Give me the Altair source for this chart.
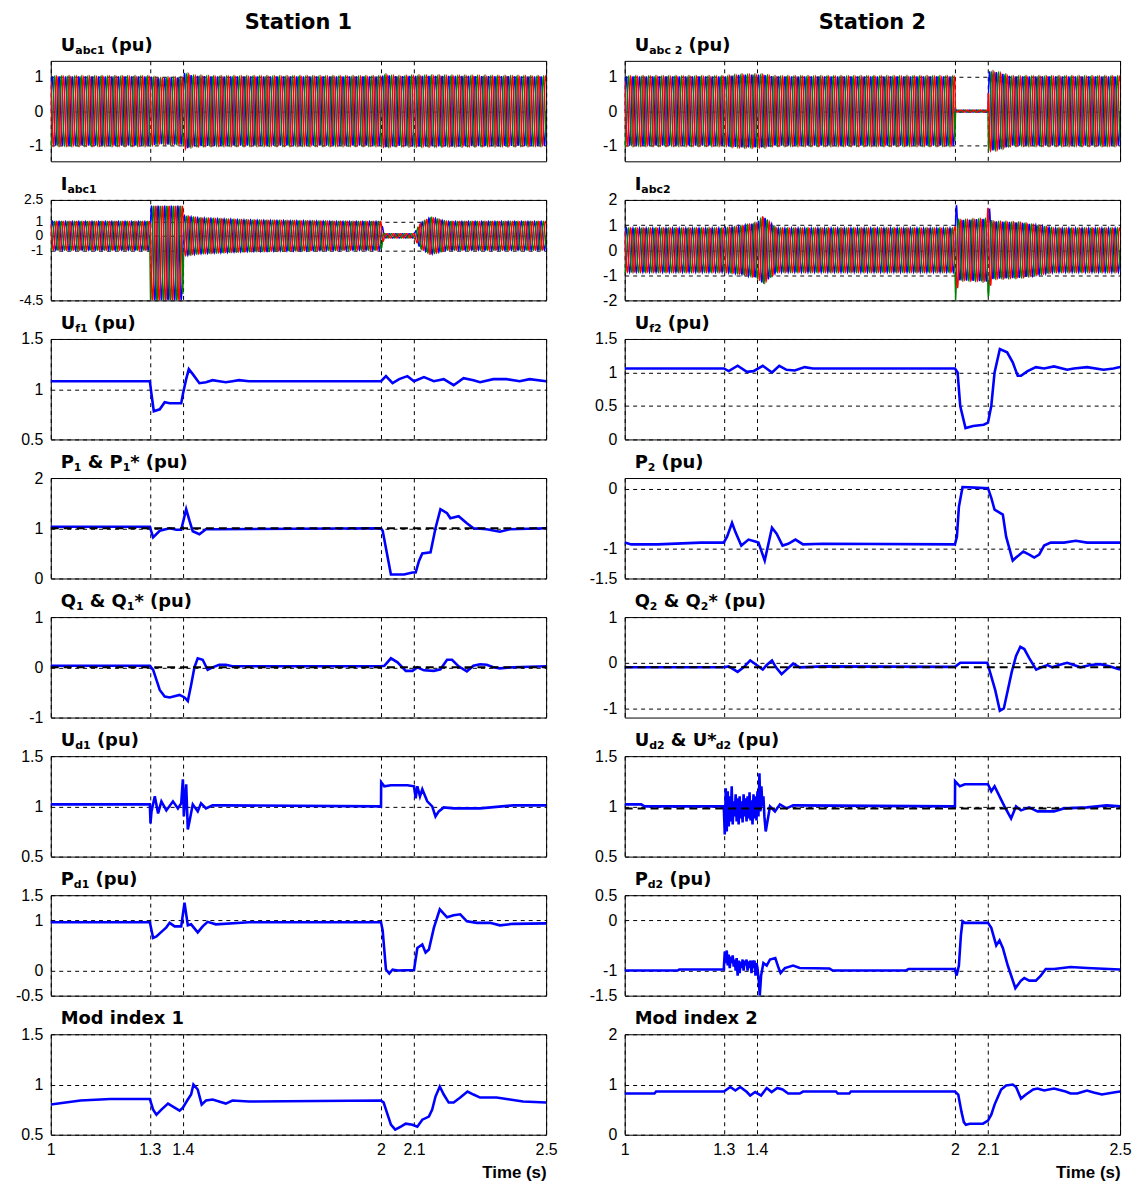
import altair as alt
import numpy as np
import pandas as pd

# ---------------- axes / ticks ----------------
X_TICKS = [1, 1.3, 1.4, 2, 2.1, 2.5]
REF_T = [1.0, 2.5]

# ---------------- three-phase waveform envelopes ----------------
UABC1_T = [1.0, 1.3, 1.33, 1.36, 1.40, 1.405, 1.43, 1.5, 2.0, 2.01, 2.05, 2.1, 2.15, 2.5]
UABC1_A = [1.0, 1.0, 0.95, 0.97, 0.97, 1.1, 1.02, 1.0, 1.0, 1.05, 1.0, 1.02, 1.02, 1.0]

UABC2_T = [1.0, 1.3, 1.35, 1.42, 1.45, 2.0, 2.0015, 2.1, 2.1015, 2.13, 2.17, 2.5]
UABC2_A = [1.0, 1.0, 1.05, 1.05, 1.0, 1.0, 0.03, 0.03, 1.15, 1.12, 1.0, 1.0]

IABC1_T = [1.0, 1.3, 1.302, 1.4, 1.402, 1.45, 1.6, 1.9, 2.0, 2.01, 2.1, 2.12, 2.15, 2.2, 2.5]
IABC1_A = [1.0, 1.0, 3.3, 3.3, 1.4, 1.25, 1.1, 1.0, 1.0, 0.15, 0.15, 0.9, 1.3, 1.0, 1.0]
IABC1_OFF = [0, 0, -1.2, -1.2, 0, 0, 0, 0, 0, 0, 0, 0, 0, 0, 0]

IABC2_T = [1.0, 1.3, 1.35, 1.40, 1.42, 1.44, 1.46, 2.0, 2.002, 2.012, 2.098, 2.1, 2.112, 2.2, 2.3, 2.5]
IABC2_A = [0.88, 0.88, 0.95, 1.1, 1.35, 1.1, 0.88, 0.88, 2.0, 1.2, 1.25, 1.95, 1.15, 1.1, 0.88, 0.88]

# ---------------- Station 1 signals ----------------
UF1_T = [1.0, 1.3, 1.305, 1.312, 1.33, 1.345, 1.36, 1.395, 1.40, 1.41, 1.418, 1.43, 1.45, 1.47, 1.49,
         1.51, 1.53, 1.55, 1.57, 1.60, 2.0, 2.015, 2.035, 2.055, 2.08, 2.10, 2.13, 2.16, 2.19, 2.22,
         2.25, 2.28, 2.30, 2.34, 2.38, 2.42, 2.45, 2.5]
UF1_V = [1.08, 1.08, 0.95, 0.78, 0.80, 0.87, 0.86, 0.86, 0.95, 1.10, 1.20, 1.15, 1.06, 1.07, 1.09,
         1.08, 1.07, 1.08, 1.09, 1.08, 1.08, 1.13, 1.06, 1.10, 1.13, 1.08, 1.12, 1.08, 1.10, 1.04,
         1.11, 1.09, 1.07, 1.10, 1.10, 1.08, 1.10, 1.08]

P1_T = [1.0, 1.3, 1.31, 1.33, 1.36, 1.38, 1.395, 1.41, 1.42, 1.43, 1.45, 1.47, 1.50, 2.0, 2.005,
        2.03, 2.07, 2.095, 2.105, 2.115, 2.125, 2.15, 2.165, 2.18, 2.2, 2.21, 2.235, 2.26, 2.28,
        2.32, 2.36, 2.39, 2.5]
P1_V = [1.03, 1.03, 0.82, 0.95, 1.0, 0.97, 0.97, 1.38, 1.15, 0.94, 0.88, 0.98, 0.98, 1.0, 0.95,
        0.08, 0.08, 0.12, 0.12, 0.35, 0.5, 0.52, 1.0, 1.38, 1.3, 1.2, 1.24, 1.1, 1.0,
        0.98, 0.93, 0.98, 1.0]
P1_REF = [1.0, 1.0]

Q1_T = [1.0, 1.3, 1.31, 1.33, 1.345, 1.36, 1.39, 1.405, 1.415, 1.425, 1.435, 1.445, 1.46, 1.475,
        1.49, 1.51, 1.53, 1.55, 2.0, 2.01, 2.03, 2.05, 2.075, 2.095, 2.11, 2.13, 2.16, 2.18, 2.2,
        2.215, 2.235, 2.26, 2.28, 2.3, 2.32, 2.34, 2.36, 2.4, 2.5]
Q1_V = [0.03, 0.03, -0.05, -0.45, -0.58, -0.6, -0.55, -0.6, -0.67, -0.35, 0.0, 0.18, 0.15, -0.05,
        0.0, 0.05, 0.05, 0.02, 0.02, 0.03, 0.18, 0.1, -0.07, -0.07, 0.0, -0.06, -0.07, -0.04, 0.15,
        0.15, 0.02, -0.08, 0.03, 0.06, 0.05, 0.0, -0.02, 0.0, 0.02]
Q1_REF = [0.0, 0.0]

UD1_T = [1.0, 1.3, 1.302, 1.305, 1.315, 1.325, 1.335, 1.35, 1.37, 1.385, 1.395, 1.40, 1.403, 1.41,
         1.415, 1.42, 1.43, 1.445, 1.455, 1.47, 1.49, 1.52, 2.0, 2.0005, 2.01, 2.03, 2.08, 2.1,
         2.105, 2.11, 2.118, 2.125, 2.14, 2.155, 2.165, 2.175, 2.19, 2.22, 2.3, 2.4, 2.5]
UD1_V = [1.02, 1.02, 0.83, 0.95, 1.1, 0.93, 1.05, 0.96, 1.05, 0.98, 1.03, 1.27, 0.9, 1.22,
         0.77, 0.85, 1.02, 0.95, 1.03, 0.98, 1.01, 1.01, 1.0, 1.24, 1.2, 1.21, 1.21, 1.2,
         1.08, 1.2, 1.1, 1.17, 1.05, 1.0, 0.9, 0.95, 0.99, 0.98, 0.98, 1.01, 1.01]

PD1_T = [1.0, 1.3, 1.31, 1.32, 1.335, 1.35, 1.36, 1.375, 1.395, 1.405, 1.415, 1.425, 1.445, 1.46,
         1.475, 1.5, 1.6, 2.0, 2.005, 2.015, 2.025, 2.035, 2.05, 2.1, 2.11, 2.125, 2.135, 2.145,
         2.16, 2.178, 2.2, 2.22, 2.24, 2.26, 2.29, 2.33, 2.36, 2.4, 2.5]
PD1_V = [0.96, 0.96, 0.65, 0.68, 0.77, 0.86, 0.95, 0.88, 0.88, 1.35, 0.9, 0.92, 0.76, 0.88,
         0.97, 0.92, 0.96, 0.96, 0.8, 0.02, -0.06, 0.02, 0.0, 0.01, 0.45, 0.52, 0.36, 0.42,
         0.85, 1.22, 1.06, 1.1, 1.12, 0.98, 0.95, 0.95, 0.9, 0.93, 0.94]

MOD1_T = [1.0, 1.045, 1.09, 1.18, 1.3, 1.31, 1.32, 1.335, 1.355, 1.375, 1.39, 1.40, 1.415, 1.425,
          1.432, 1.445, 1.457, 1.47, 1.49, 1.53, 1.55, 1.6, 2.0, 2.008, 2.02, 2.03, 2.043, 2.06,
          2.075, 2.095, 2.11, 2.125, 2.145, 2.155, 2.165, 2.178, 2.19, 2.205, 2.22, 2.24, 2.262,
          2.28, 2.3, 2.35, 2.39, 2.43, 2.5]
MOD1_V = [0.8, 0.82, 0.84, 0.855, 0.855, 0.75, 0.7, 0.75, 0.81, 0.77, 0.74, 0.77, 0.85, 0.9,
          1.0, 0.95, 0.8, 0.84, 0.85, 0.81, 0.84, 0.83, 0.84, 0.82, 0.7, 0.6, 0.55, 0.58,
          0.61, 0.6, 0.58, 0.65, 0.68, 0.75, 0.88, 0.98, 0.9, 0.82, 0.82, 0.87, 0.93,
          0.9, 0.87, 0.87, 0.85, 0.83, 0.82]

# ---------------- Station 2 signals ----------------
UF2_T = [1.0, 1.3, 1.315, 1.342, 1.37, 1.39, 1.418, 1.446, 1.468, 1.49, 1.515, 1.545, 1.57, 2.0,
         2.008, 2.016, 2.032, 2.055, 2.087, 2.1, 2.11, 2.12, 2.136, 2.158, 2.175, 2.19, 2.2, 2.22,
         2.245, 2.27, 2.3, 2.34, 2.36, 2.4, 2.45, 2.48, 2.5]
UF2_V = [1.06, 1.06, 1.02, 1.1, 1.01, 1.02, 1.1, 1.0, 1.1, 1.04, 1.03, 1.08, 1.06, 1.06,
         1.0, 0.5, 0.17, 0.2, 0.22, 0.25, 0.5, 1.0, 1.35, 1.3, 1.15, 0.95, 0.95, 1.02,
         1.08, 1.06, 1.09, 1.04, 1.06, 1.08, 1.04, 1.06, 1.08]

P2_T = [1.0, 1.02, 1.1, 1.23, 1.3, 1.31, 1.325, 1.335, 1.353, 1.375, 1.395, 1.405, 1.424, 1.446,
        1.46, 1.478, 1.495, 1.517, 1.54, 1.6, 2.0, 2.006, 2.012, 2.023, 2.06, 2.1, 2.11, 2.12,
        2.145, 2.155, 2.175, 2.185, 2.207, 2.225, 2.24, 2.255, 2.27, 2.29, 2.33, 2.366, 2.4, 2.5]
P2_V = [-0.9, -0.93, -0.93, -0.9, -0.9, -0.8, -0.57, -0.72, -0.95, -0.85, -0.88, -0.9, -1.2, -0.65,
        -0.75, -0.95, -0.92, -0.85, -0.93, -0.92, -0.93, -0.8, -0.3, 0.03, 0.02, 0.01, -0.15, -0.35,
        -0.43, -0.8, -1.2, -1.15, -1.05, -1.1, -1.15, -1.1, -0.95, -0.9, -0.9, -0.87, -0.9, -0.9]

Q2_T = [1.0, 1.3, 1.315, 1.342, 1.36, 1.38, 1.39, 1.418, 1.43, 1.446, 1.458, 1.475, 1.49, 1.51,
        1.53, 1.6, 2.0, 2.016, 2.098, 2.11, 2.122, 2.136, 2.148, 2.16, 2.172, 2.185, 2.198, 2.21,
        2.225, 2.246, 2.262, 2.28, 2.295, 2.315, 2.34, 2.36, 2.38, 2.41, 2.44, 2.47, 2.5]
Q2_V = [-0.1, -0.1, -0.08, -0.2, -0.1, 0.05, 0.0, -0.15, -0.05, 0.05, -0.1, -0.25, -0.15, -0.02,
        -0.1, -0.08, -0.09, 0.0, 0.0, -0.3, -0.6, -1.05, -1.0, -0.6, -0.2, 0.15, 0.35, 0.3,
        0.1, -0.15, -0.1, -0.05, -0.1, -0.05, 0.0, -0.05, -0.1, -0.05, -0.03, -0.08, -0.15]
Q2_REF = [-0.1, -0.1]

UD2_T = ([1.0, 1.05, 1.06, 1.3]
         + [1.303, 1.306, 1.309, 1.312, 1.315, 1.318, 1.321, 1.324, 1.327, 1.330, 1.333, 1.336,
            1.339, 1.342, 1.345, 1.348, 1.351, 1.354, 1.357, 1.360, 1.363, 1.366, 1.369, 1.372,
            1.375, 1.378, 1.381, 1.384, 1.387, 1.390, 1.393, 1.396, 1.399, 1.402, 1.405, 1.408,
            1.411, 1.414, 1.417, 1.420, 1.423, 1.427]
         + [1.44, 1.455, 1.47, 1.49, 1.51, 2.0, 2.0005, 2.015, 2.03, 2.1, 2.11, 2.12, 2.135, 2.15,
            2.17, 2.185, 2.2, 2.225, 2.25, 2.3, 2.33, 2.4, 2.46, 2.5])
UD2_V = ([1.02, 1.02, 1.0, 1.0]
         + [0.72, 1.18, 0.75, 1.15, 0.8, 1.1, 0.85, 1.2, 0.82, 1.05, 0.9, 1.12,
            0.85, 1.08, 0.82, 1.1, 0.88, 1.05, 0.84, 1.12, 0.9, 1.08, 0.85, 1.1,
            0.88, 1.14, 0.86, 1.06, 0.82, 1.12, 0.88, 1.1, 0.86, 1.15, 0.9, 1.33,
            0.95, 1.2, 1.0, 1.1, 0.9, 0.75]
         + [1.0, 0.95, 1.02, 0.98, 1.01, 1.0, 1.25, 1.2, 1.22, 1.22, 1.15, 1.2, 1.1, 1.0,
            0.88, 1.0, 0.96, 0.99, 0.95, 0.95, 0.98, 0.99, 1.01, 1.0])
UD2_REF = [0.98, 0.98]

PD2_T = ([1.0, 1.16, 1.165, 1.3]
         + [1.303, 1.306, 1.309, 1.312, 1.315, 1.318, 1.321, 1.324, 1.327, 1.330, 1.333, 1.336,
            1.339, 1.342, 1.345, 1.348, 1.351, 1.354, 1.357, 1.360, 1.363, 1.366, 1.369, 1.372,
            1.375, 1.378, 1.381, 1.384, 1.387, 1.390, 1.393, 1.396, 1.399, 1.402]
         + [1.406, 1.409, 1.413, 1.42, 1.43, 1.44, 1.456, 1.466, 1.472, 1.485, 1.51, 1.53, 1.62,
            1.63, 1.85, 1.86, 2.0, 2.005, 2.012, 2.018, 2.023, 2.03, 2.1, 2.11, 2.125, 2.135,
            2.145, 2.16, 2.183, 2.2, 2.21, 2.225, 2.245, 2.26, 2.275, 2.3, 2.35, 2.4, 2.5])
PD2_V = ([-1.0, -1.0, -0.98, -0.98]
         + [-0.62, -0.85, -0.6, -0.9, -0.68, -0.95, -0.72, -0.85, -0.7, -0.92, -0.78, -1.0,
            -0.75, -1.1, -0.8, -1.05, -0.82, -0.95, -0.78, -1.0, -0.8, -0.9, -0.78, -1.0,
            -0.82, -0.95, -0.8, -1.05, -0.8, -0.95, -0.8, -1.1, -0.85, -0.95]
         + [-1.2, -1.5, -1.1, -0.85, -0.9, -0.78, -0.75, -0.95, -1.05, -0.95, -0.9, -0.95, -0.96,
            -1.0, -1.0, -0.97, -0.97, -1.1, -0.9, -0.3, -0.02, -0.05, -0.05, -0.15, -0.5, -0.4,
            -0.55, -0.9, -1.35, -1.2, -1.15, -1.2, -1.2, -1.1, -0.97, -0.97, -0.93, -0.95, -0.98])

MOD2_T = [1.0, 1.09, 1.095, 1.3, 1.32, 1.335, 1.35, 1.37, 1.38, 1.395, 1.413, 1.43, 1.445, 1.462,
          1.478, 1.495, 1.53, 1.54, 1.64, 1.645, 1.68, 1.685, 2.0, 2.01, 2.02, 2.027, 2.033, 2.045,
          2.085, 2.1, 2.11, 2.12, 2.13, 2.14, 2.155, 2.175, 2.185, 2.2, 2.215, 2.237, 2.25, 2.27,
          2.3, 2.335, 2.35, 2.37, 2.39, 2.4, 2.42, 2.445, 2.48, 2.5]
MOD2_V = [0.82, 0.82, 0.86, 0.86, 0.95, 0.88, 0.95, 0.85, 0.78, 0.85, 0.78, 0.93, 0.85, 0.93,
          0.9, 0.82, 0.82, 0.86, 0.86, 0.82, 0.82, 0.86, 0.86, 0.8, 0.45, 0.25, 0.2, 0.22,
          0.22, 0.28, 0.4, 0.6, 0.75, 0.9, 0.98, 1.0, 0.95, 0.72, 0.8, 0.9, 0.92, 0.88,
          0.92, 0.86, 0.82, 0.82, 0.86, 0.88, 0.84, 0.8, 0.84, 0.86]

# ---------------- styling ----------------
BLUE, GREEN, RED = "#0000ff", "#008000", "#ff0000"
PANEL_W, PANEL_H = 498, 101
TITLE_FONT = "DejaVu Sans"
TICK_FONT = "Liberation Sans"
# DejaVu Sans Bold advance widths (em) for laying out subscripted titles
GLYPH_W = {"U": 0.812, "I": 0.372, "P": 0.733, "Q": 0.850, "M": 0.995, "a": 0.675, "b": 0.716,
           "c": 0.593, "d": 0.716, "e": 0.678, "f": 0.435, "i": 0.343, "n": 0.712, "o": 0.687,
           "p": 0.716, "u": 0.712, "x": 0.663, "1": 0.696, "2": 0.696, " ": 0.348, "(": 0.457,
           ")": 0.457, "&": 0.872, "*": 0.470}
MAIN_SIZE, SUB_SIZE = 18, 11

ONE = pd.DataFrame({"k": [0]})


def text_w(s, size):
    return sum(GLYPH_W.get(c, 0.65) for c in s) * size


def xenc(bottom):
    if bottom:
        ax = alt.Axis(values=X_TICKS, grid=True, labels=True, labelFlush=False, labelOverlap=False,
                      labelPadding=7, labelExpr="'' + datum.value", title="Time (s)",
                      titleX=PANEL_W, titleY=38, titleAlign="right", titleBaseline="middle",
                      titleFont=TICK_FONT, titleFontSize=17, titleFontWeight="bold",
                      titleColor="black")
    else:
        ax = alt.Axis(values=X_TICKS, grid=True, labels=False, title=None)
    return alt.X("t:Q", scale=alt.Scale(domain=[1.0, 2.5], nice=False, zero=False), axis=ax)


def yenc(dom, ticks, fs=16):
    return alt.Y("v:Q", scale=alt.Scale(domain=dom, nice=False, zero=False),
                 axis=alt.Axis(values=ticks, grid=True, title=None, labelPadding=8,
                               labelFontSize=fs, labelOverlap=False,
                               labelExpr="'' + datum.value"))


def title_layers(segs, x0=10, y0=-10):
    out = []
    x = x0
    for txt, sub in segs:
        size = SUB_SIZE if sub else MAIN_SIZE
        lead = len(txt) - len(txt.lstrip(" "))
        x += lead * GLYPH_W[" "] * size
        core = txt.strip(" ")
        out.append(alt.Chart(ONE).mark_text(align="left", baseline="alphabetic", font=TITLE_FONT,
                                            fontWeight="bold", fontSize=size, color="black")
                   .encode(x=alt.value(x), y=alt.value(y0 + (3 if sub else 0)), text=alt.value(core)))
        x += text_w(core, size)
    return out


def station_layer(name):
    return alt.Chart(ONE).mark_text(align="center", baseline="middle", font=TITLE_FONT,
                                    fontWeight="bold", fontSize=21, color="black").encode(
        x=alt.value(PANEL_W / 2), y=alt.value(-38), text=alt.value(name))


def wave_layers(T, A, OFF, dom, ticks, fs=16):
    t = np.linspace(1.0, 2.5, 1501)
    amp = np.interp(t, T, A)
    off = np.interp(t, T, OFF) if OFF is not None else 0.0
    out = []
    for k, col in enumerate([BLUE, GREEN, RED]):
        v = amp * np.sin(2 * np.pi * 50 * t - k * 2 * np.pi / 3) + off
        df = pd.DataFrame({"t": t, "v": v})
        out.append(alt.Chart(df).mark_line(color=col, strokeWidth=1.4, clip=True)
                   .encode(x=xenc(False), y=yenc(dom, ticks, fs)))
    return out


def line_layers(T, V, dom, ticks, ref=None, bottom=False):
    out = [alt.Chart(pd.DataFrame({"t": T, "v": V})).mark_line(color=BLUE, strokeWidth=2.6, clip=True)
           .encode(x=xenc(bottom), y=yenc(dom, ticks))]
    if ref is not None:
        out.append(alt.Chart(pd.DataFrame({"t": REF_T, "v": ref}))
                   .mark_line(color="black", strokeWidth=2, strokeDash=[8, 5], clip=True)
                   .encode(x=xenc(bottom), y=yenc(dom, ticks)))
    return out


def panel(layers, segs, station=None):
    ls = layers + title_layers(segs)
    if station:
        ls.append(station_layer(station))
    return alt.layer(*ls).properties(width=PANEL_W, height=PANEL_H)


U_DOM = [-1.45, 1.45]
panels = [
    panel(wave_layers(UABC1_T, UABC1_A, None, U_DOM, [-1, 0, 1]),
          [("U", 0), ("abc1", 1), (" (pu)", 0)], "Station 1"),
    panel(wave_layers(UABC2_T, UABC2_A, None, U_DOM, [-1, 0, 1]),
          [("U", 0), ("abc 2", 1), (" (pu)", 0)], "Station 2"),
    panel(wave_layers(IABC1_T, IABC1_A, IABC1_OFF, [-4.5, 2.5], [-4.5, -1, 0, 1, 2.5], fs=14),
          [("I", 0), ("abc1", 1)]),
    panel(wave_layers(IABC2_T, IABC2_A, None, [-2, 2], [-2, -1, 0, 1, 2]),
          [("I", 0), ("abc2", 1)]),
    panel(line_layers(UF1_T, UF1_V, [0.5, 1.5], [0.5, 1, 1.5]),
          [("U", 0), ("f1", 1), (" (pu)", 0)]),
    panel(line_layers(UF2_T, UF2_V, [0, 1.5], [0, 0.5, 1, 1.5]),
          [("U", 0), ("f2", 1), (" (pu)", 0)]),
    panel(line_layers(P1_T, P1_V, [0, 2], [0, 1, 2], ref=P1_REF),
          [("P", 0), ("1", 1), (" & P", 0), ("1", 1), ("* (pu)", 0)]),
    panel(line_layers(P2_T, P2_V, [-1.5, 0.18], [-1.5, -1, 0]),
          [("P", 0), ("2", 1), (" (pu)", 0)]),
    panel(line_layers(Q1_T, Q1_V, [-1, 1], [-1, 0, 1], ref=Q1_REF),
          [("Q", 0), ("1", 1), (" & Q", 0), ("1", 1), ("* (pu)", 0)]),
    panel(line_layers(Q2_T, Q2_V, [-1.2, 1], [-1, 0, 1], ref=Q2_REF),
          [("Q", 0), ("2", 1), (" & Q", 0), ("2", 1), ("* (pu)", 0)]),
    panel(line_layers(UD1_T, UD1_V, [0.5, 1.5], [0.5, 1, 1.5]),
          [("U", 0), ("d1", 1), (" (pu)", 0)]),
    panel(line_layers(UD2_T, UD2_V, [0.5, 1.5], [0.5, 1, 1.5], ref=UD2_REF),
          [("U", 0), ("d2", 1), (" & U*", 0), ("d2", 1), (" (pu)", 0)]),
    panel(line_layers(PD1_T, PD1_V, [-0.5, 1.5], [-0.5, 0, 1, 1.5]),
          [("P", 0), ("d1", 1), (" (pu)", 0)]),
    panel(line_layers(PD2_T, PD2_V, [-1.5, 0.5], [-1.5, -1, 0, 0.5]),
          [("P", 0), ("d2", 1), (" (pu)", 0)]),
    panel(line_layers(MOD1_T, MOD1_V, [0.5, 1.5], [0.5, 1, 1.5], bottom=True),
          [("Mod index 1", 0)]),
    panel(line_layers(MOD2_T, MOD2_V, [0, 2], [0, 1, 2], bottom=True),
          [("Mod index 2", 0)]),
]

chart = alt.concat(*panels, columns=2, spacing={"row": 38.8, "column": 79}, bounds="flush",
                   padding={"left": 6, "top": 0, "right": 0, "bottom": 0})
chart = chart.configure_view(stroke="black", strokeWidth=1).configure_axis(
    labelFont=TICK_FONT, labelFontSize=16, labelColor="black", gridColor="black",
    gridDash=[4, 4], gridWidth=1, gridOpacity=1, domain=False, ticks=False)

chart.save("out.html", embed_options={"renderer": "svg", "actions": False})
